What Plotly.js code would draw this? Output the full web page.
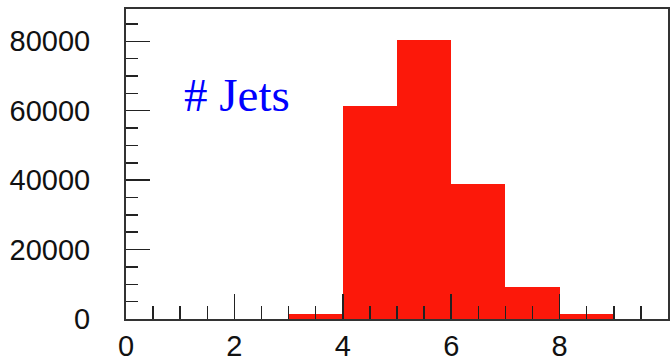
<!DOCTYPE html>
<html>
<head>
<meta charset="utf-8">
<script src="https://cdn.plot.ly/plotly-3.0.1.min.js"></script>
<style>html,body{margin:0;padding:0;background:#fff;}#chart{width:672px;height:361px;}</style>
</head>
<body>
<div id="chart"></div>
<script>
// Histogram: number of jets per event
var binCenters = [0.5, 1.5, 2.5, 3.5, 4.5, 5.5, 6.5, 7.5, 8.5, 9.5];
var binCounts  = [0, 0, 0, 1300, 61500, 80400, 38800, 9200, 1300, 0];
var xTickVals  = [0, 2, 4, 6, 8];
var yTickVals  = [0, 20000, 40000, 60000, 80000];
var labelText  = "# Jets";

var trace = {
  type: 'bar',
  x: binCenters,
  y: binCounts,
  width: 1,
  marker: {color: '#fc180a', line: {width: 0}},
  hoverinfo: 'skip'
};

var axisFont = {family: 'Liberation Sans, Arial, sans-serif', size: 29, color: '#111'};

var layout = {
  width: 672, height: 361,
  margin: {l: 126, r: 4, t: 9, b: 42, pad: 0},
  paper_bgcolor: '#ffffff', plot_bgcolor: '#ffffff',
  showlegend: false,
  bargap: 0,
  xaxis: {
    range: [0, 10], tickmode: 'array', tickvals: xTickVals, ticktext: xTickVals.map(String),
    showgrid: false, zeroline: false,
    showline: true, linecolor: '#333', linewidth: 2, mirror: true,
    ticks: 'inside', ticklen: 25, tickwidth: 1.5, tickcolor: '#222',
    minor: {dtick: 0.5, ticks: 'inside', ticklen: 13, tickwidth: 1.5, tickcolor: '#222', showgrid: false},
    tickfont: axisFont, ticklabelstandoff: 0,
    fixedrange: true
  },
  yaxis: {
    range: [0, 89300], tickmode: 'array', tickvals: yTickVals, ticktext: yTickVals.map(String),
    showgrid: false, zeroline: false,
    showline: true, linecolor: '#333', linewidth: 2, mirror: true,
    ticks: 'inside', ticklen: 24, tickwidth: 1.5, tickcolor: '#222',
    minor: {dtick: 5000, ticks: 'inside', ticklen: 12, tickwidth: 1.5, tickcolor: '#222', showgrid: false},
    tickfont: axisFont, ticklabelstandoff: 28,
    fixedrange: true
  },
  annotations: [{
    text: labelText, xref: 'x', yref: 'y', x: 2.04, y: 64500,
    showarrow: false, xanchor: 'center', yanchor: 'middle',
    font: {family: 'Liberation Serif, Times New Roman, serif', size: 47, color: '#0000ff'}
  }]
};

Plotly.newPlot('chart', [trace], layout, {staticPlot: true, displayModeBar: false});
</script>
</body>
</html>
